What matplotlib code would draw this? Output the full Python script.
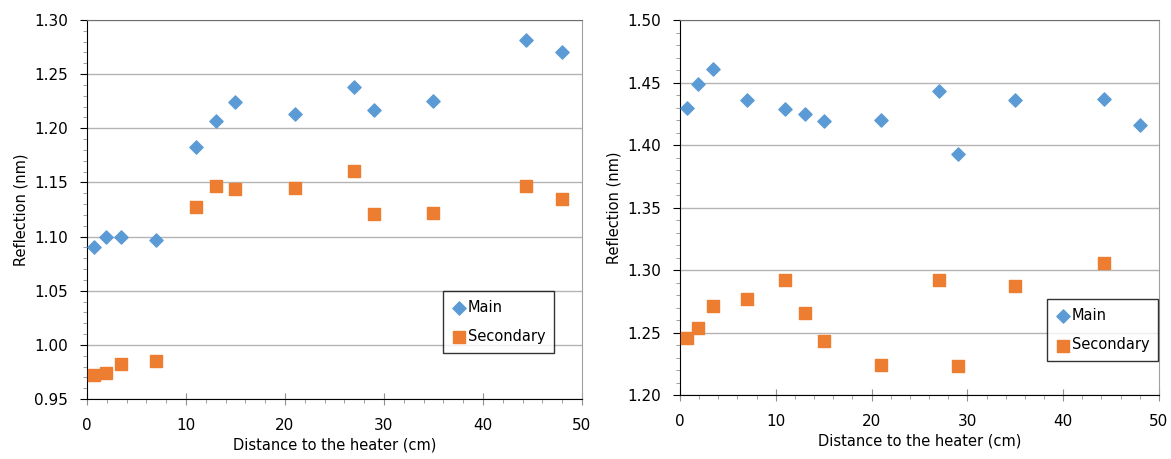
import numpy as np
import matplotlib.pyplot as plt
from matplotlib.ticker import MultipleLocator, FormatStrFormatter

# distances (cm)
x = [0.7, 1.9, 3.4, 7, 11, 13, 15, 21, 27, 29, 35, 44.3, 48]

# left panel
main_l = [1.090, 1.100, 1.100, 1.097, 1.183, 1.207, 1.224, 1.213, 1.238, 1.217, 1.225, 1.282, 1.270]
sec_l = [0.972, 0.974, 0.982, 0.985, 1.127, 1.147, 1.144, 1.145, 1.161, 1.121, 1.122, 1.147, 1.135]

# right panel
main_r = [1.430, 1.449, 1.461, 1.436, 1.429, 1.425, 1.419, 1.420, 1.443, 1.393, 1.436, 1.437, 1.416]
x_sec_r = [0.7, 1.9, 3.4, 7, 11, 13, 15, 21, 27, 29, 35, 44.3]
sec_r = [1.246, 1.254, 1.271, 1.277, 1.292, 1.266, 1.243, 1.224, 1.292, 1.223, 1.287, 1.306]

blue = '#5B9BD5'
orange = '#ED7D31'
plt.rcParams['font.family'] = ['DejaVu Sans']

fig = plt.figure(figsize=(11.71, 4.59), dpi=100)
ax1 = fig.add_axes([0.0743, 0.1307, 0.4227, 0.8257])
ax2 = fig.add_axes([0.5807, 0.1394, 0.409, 0.817])


def style(ax, ylo, yhi, leg_anchor):
    ax.set_xlim(0, 50)
    ax.set_ylim(ylo, yhi)
    ax.xaxis.set_major_locator(MultipleLocator(10))
    ax.xaxis.set_minor_locator(MultipleLocator(2))
    ax.yaxis.set_major_locator(MultipleLocator(0.05))
    ax.yaxis.set_minor_locator(MultipleLocator(0.01))
    ax.yaxis.set_major_formatter(FormatStrFormatter('%.2f'))
    ax.grid(axis='y', which='major', color='#B4B4B4', lw=1)
    ax.set_axisbelow(True)
    ax.tick_params(axis='y', which='major', direction='out', length=5, pad=8.5,
                   labelsize=11, color='black')
    ax.tick_params(axis='y', which='minor', direction='out', length=3, color='#909090')
    ax.tick_params(axis='x', which='major', direction='inout', length=8, pad=10,
                   labelsize=11, color='#909090')
    ax.tick_params(axis='x', which='minor', direction='out', length=3, color='#909090')
    for s in ['left', 'bottom']:
        ax.spines[s].set_color('black')
    ax.spines['top'].set_color('#707070')
    ax.spines['right'].set_color('#A0A0A0')
    ax.set_xlabel('Distance to the heater (cm)', fontsize=10.5, labelpad=3)
    ax.set_ylabel('Reflection (nm)', fontsize=10.5)
    leg = ax.legend(loc='upper left', bbox_to_anchor=leg_anchor, fontsize=10.5,
                    frameon=True, fancybox=False, handletextpad=0.1,
                    handlelength=1.0, borderpad=0.6, labelspacing=1.0,
                    borderaxespad=0)
    leg.get_frame().set_edgecolor('black')
    leg.get_frame().set_linewidth(1.0)


ax1.scatter(x, main_l, marker='D', s=45, color=blue, label='Main', zorder=3)
ax1.scatter(x, sec_l, marker='s', s=75, color=orange, label='Secondary', zorder=3)
style(ax1, 0.95, 1.30, (0.719, 0.285))

ax2.scatter(x, main_r, marker='D', s=45, color=blue, label='Main', zorder=3)
ax2.scatter(x_sec_r, sec_r, marker='s', s=75, color=orange, label='Secondary', zorder=3)
style(ax2, 1.20, 1.50, (0.766, 0.256))

fig.savefig('out.png', dpi=100)
